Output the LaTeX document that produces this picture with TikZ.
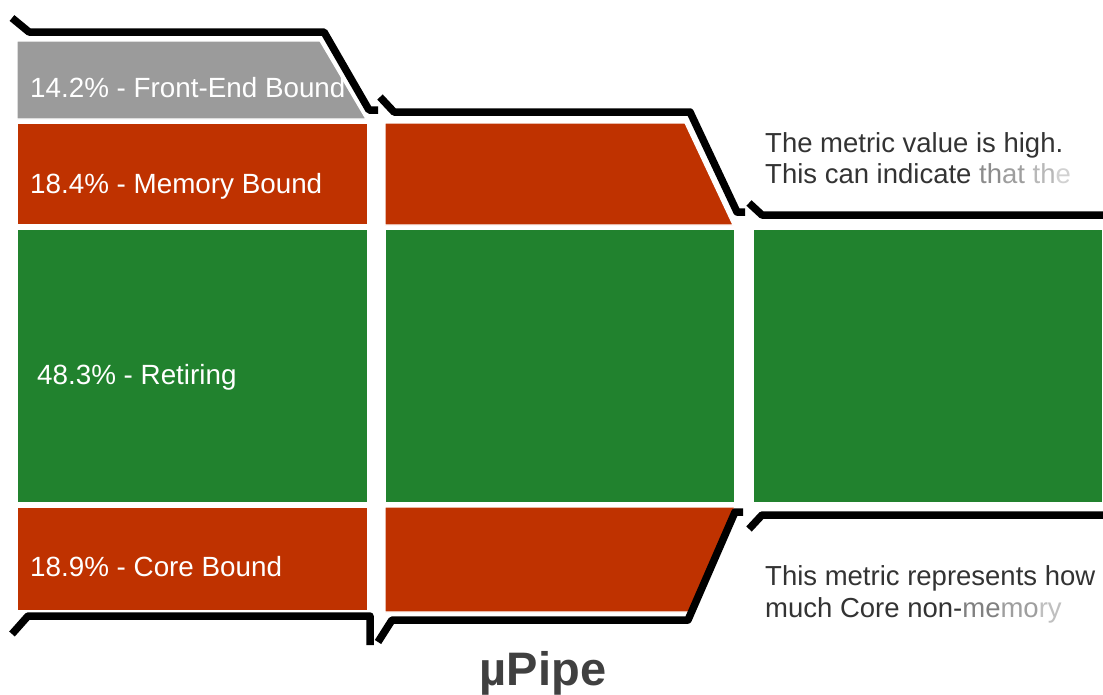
\documentclass[tikz,border=0pt]{standalone}
\usepackage{fontspec}
\setmainfont{Liberation Sans}
\usetikzlibrary{calc}
\definecolor{feGrey}{RGB}{155,155,155}
\definecolor{boundRed}{RGB}{191,50,0}
\definecolor{retGreen}{RGB}{33,130,46}
\definecolor{txtGrey}{RGB}{51,51,51}
\definecolor{ttlGrey}{RGB}{64,64,64}

\begin{document}
\begin{tikzpicture}[x=1pt, y=-1pt,
		blk/.style={draw=white, line width=1.2pt},
		pipe/.style={line width=7.5pt, line join=round},
		lbl/.style={anchor=base west, inner sep=0pt, text=white, font=\fontsize{27.8}{33}\selectfont},
		hint/.style={anchor=base west, inner sep=0pt, text=txtGrey, font=\fontsize{27.5}{33}\selectfont}]
			%%%%% START %%%%%
			\useasboundingbox (0, 0) rectangle (1103, 694);
			
			% first stage
			\draw[blk, fill=feGrey] (17, 41) -- (320, 41) -- (366, 119) -- (17, 119) -- cycle;
			\draw[blk, fill=boundRed] (17, 123) rectangle (368, 225);
			\draw[blk, fill=retGreen] (17, 229) rectangle (368, 503);
			\draw[blk, fill=boundRed] (17, 507) rectangle (368, 611);
			
			% second stage
			\draw[blk, fill=boundRed] (385, 123) -- (685, 123) -- (733, 225) -- (385, 225) -- cycle;
			\draw[blk, fill=retGreen] (385, 229) rectangle (735, 503);
			\draw[blk, fill=boundRed] (385, 507) -- (735, 507) -- (690, 612) -- (385, 612) -- cycle;
			
			% third stage
			\draw[blk, fill=retGreen] (753, 229) rectangle (1103, 503);
			
			% pipe walls
			\draw[pipe] (12, 18) -- (29, 32) -- (324, 32) -- (369, 110) -- (378, 110);
			\draw[pipe] (380, 97) -- (394, 112) -- (690, 112) -- (737, 212) -- (745, 212);
			\draw[pipe] (749, 203) -- (762, 215) -- (1103, 215);
			
			\draw[pipe] (12, 634) -- (28, 616) -- (370, 616) -- (370, 645);
			\draw[pipe] (378, 642) -- (392, 620) -- (688, 620) -- (735, 512) -- (743, 512);
			\draw[pipe] (749, 529) -- (762, 515) -- (1103, 515);
			
			% labels
			\node[lbl] (fe) at (30, 97) {14.2\% - Front-End Bound};
			\node[lbl] (mem) at (30, 193) {18.4\% - Memory Bound};
			\node[lbl] (ret) at (37, 384) {48.3\% - Retiring};
			\node[lbl] (core) at (30, 576) {18.9\% - Core Bound};
			
			\node[hint] (hintA) at (765, 152) {The metric value is high.};
			\node[hint] (hintB) at (765, 183) {This can indicate \textcolor{black!45}{th}\textcolor{black!38}{at} \textcolor{black!28}{th}\textcolor{black!18}{e}};
			\node[hint] (hintC) at (765, 585) {This metric represents how};
			\node[hint] (hintD) at (765, 617) {much Core non-\textcolor{black!50}{me}\textcolor{black!38}{mo}\textcolor{black!25}{ry}};
			
			\node[anchor=base, inner sep=0pt, text=ttlGrey, font=\fontsize{47}{50}\selectfont\bfseries] (title) at (543, 685) {µPipe};
			%%%%% END %%%%%
		\end{tikzpicture}
\end{document}
